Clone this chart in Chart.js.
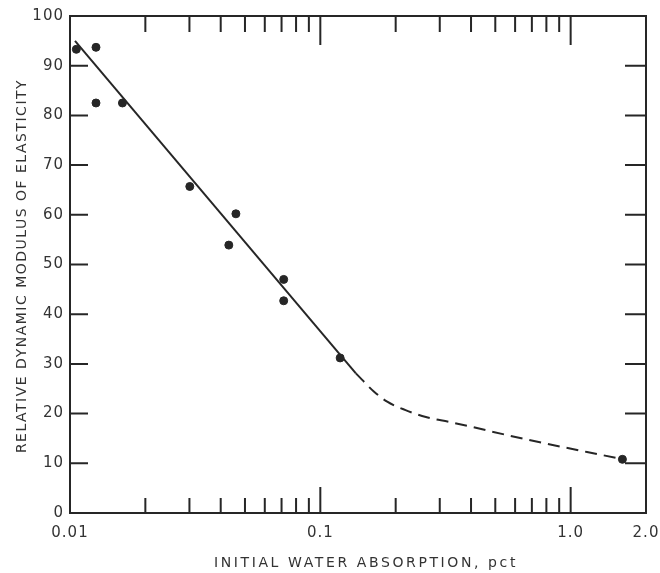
<!DOCTYPE html>
<html>
<head>
<meta charset="utf-8">
<script src="https://cdn.jsdelivr.net/npm/chart.js@4.4.1/dist/chart.umd.min.js"></script>
<style>
    html, body { margin: 0; padding: 0; background: #fff; }
    #wrap { width: 660px; height: 573px; }
</style>
</head>
<body>
<div id="wrap"><canvas id="absorptionChart" width="660" height="573"></canvas></div>
<script>
// Datos
const pointX = [0.0106, 0.0127, 0.0127, 0.0162, 0.0301, 0.0431, 0.0460, 0.0714, 0.0714, 0.120, 1.61];
const pointY = [93.3, 93.7, 82.5, 82.5, 65.7, 53.9, 60.2, 47.0, 42.7, 31.2, 10.8];

const fitX = [0.01047, 0.1387];
const fitY = [95.0, 28.1];

const curveX = [0.1387, 0.164, 0.185, 0.219, 0.264, 0.33, 0.68, 1.55];
const curveY = [28.1, 24.4, 22.4, 20.7, 19.3, 18.3, 14.7, 11.0];

const xTickValues = [0.01, 0.1, 1.0, 2.0];
const xTickLabels = ['0.01', '0.1', '1.0', '2.0'];
const xMinorTicks = [0.02, 0.03, 0.04, 0.05, 0.06, 0.07, 0.08, 0.09,
                     0.2, 0.3, 0.4, 0.5, 0.6, 0.7, 0.8, 0.9];
const xMajorTicks = [0.1, 1.0];
const yTickValues = [0, 10, 20, 30, 40, 50, 60, 70, 80, 90, 100];

const xTitle = 'INITIAL WATER ABSORPTION, pct';
const yTitle = 'RELATIVE DYNAMIC MODULUS OF ELASTICITY';

const ink = '#262626';

function toPoints(xs, ys) {
    return xs.map((x, i) => ({ x: x, y: ys[i] }));
}

/**
 * Marco, marcas interiores y titulos de los ejes
 */
const framePlugin = {
    id: 'frame',
    beforeDraw(chart) {
        chart.ctx.letterSpacing = '1px';
    },
    afterDraw(chart) {
        const ctx = chart.ctx;
        const area = chart.chartArea;
        const xs = chart.scales.x;
        const ys = chart.scales.y;

        ctx.save();
        ctx.strokeStyle = ink;
        ctx.lineWidth = 2;
        ctx.strokeRect(area.left, area.top, area.right - area.left, area.bottom - area.top);

        ctx.beginPath();
        xMinorTicks.forEach(v => {
            const px = xs.getPixelForValue(v);
            ctx.moveTo(px, area.bottom);
            ctx.lineTo(px, area.bottom - 15);
            ctx.moveTo(px, area.top);
            ctx.lineTo(px, area.top + 16);
        });
        xMajorTicks.forEach(v => {
            const px = xs.getPixelForValue(v);
            ctx.moveTo(px, area.bottom);
            ctx.lineTo(px, area.bottom - 26);
            ctx.moveTo(px, area.top);
            ctx.lineTo(px, area.top + 29);
        });
        yTickValues.slice(1, -1).forEach(v => {
            const py = ys.getPixelForValue(v);
            ctx.moveTo(area.left, py);
            ctx.lineTo(area.left + 18, py);
            ctx.moveTo(area.right, py);
            ctx.lineTo(area.right - 21, py);
        });
        ctx.stroke();

        ctx.fillStyle = '#333';
        ctx.font = '14px "DejaVu Sans"';
        ctx.textAlign = 'center';
        ctx.textBaseline = 'middle';

        ctx.letterSpacing = '2.6px';
        ctx.fillText(xTitle, 366, 563);

        ctx.letterSpacing = '1.5px';
        ctx.translate(22, 266);
        ctx.rotate(-Math.PI / 2);
        ctx.fillText(yTitle, 0, 0);
        ctx.restore();
    }
};

document.addEventListener('DOMContentLoaded', function() {
    const ctx = document.getElementById('absorptionChart');

    new Chart(ctx.getContext('2d'), {
        type: 'scatter',
        data: {
            datasets: [
                {
                    label: 'Mediciones',
                    data: toPoints(pointX, pointY),
                    backgroundColor: ink,
                    borderColor: ink,
                    pointRadius: 4,
                    pointHoverRadius: 4
                },
                {
                    label: 'Ajuste',
                    data: toPoints(fitX, fitY),
                    showLine: true,
                    borderColor: ink,
                    borderWidth: 2,
                    pointRadius: 0
                },
                {
                    label: 'Extrapolacion',
                    data: toPoints(curveX, curveY),
                    showLine: true,
                    borderColor: ink,
                    borderWidth: 2,
                    borderDash: [12, 7],
                    tension: 0.4,
                    cubicInterpolationMode: 'monotone',
                    pointRadius: 0
                }
            ]
        },
        options: {
            responsive: false,
            animation: false,
            layout: {
                padding: { top: 16, right: 14, left: 0, bottom: 0 }
            },
            plugins: {
                legend: { display: false },
                tooltip: { enabled: false }
            },
            scales: {
                x: {
                    type: 'logarithmic',
                    min: 0.01,
                    max: 2.0,
                    afterBuildTicks: s => { s.ticks = xTickValues.map(v => ({ value: v })); },
                    afterFit: s => {
                        s.height = 60;
                        s.paddingLeft = 0;
                        s.paddingRight = 0;
                    },
                    grid: { display: false, drawTicks: false },
                    border: { display: false },
                    ticks: {
                        autoSkip: false,
                        maxRotation: 0,
                        padding: 11,
                        color: '#333',
                        font: { family: 'DejaVu Sans', size: 15 },
                        callback: (v, i) => xTickLabels[i]
                    }
                },
                y: {
                    min: 0,
                    max: 100,
                    afterBuildTicks: s => { s.ticks = yTickValues.map(v => ({ value: v })); },
                    afterFit: s => {
                        s.width = 70;
                        s.paddingTop = 0;
                        s.paddingBottom = 0;
                    },
                    grid: { display: false, drawTicks: false },
                    border: { display: false },
                    ticks: {
                        padding: 6,
                        color: '#333',
                        font: { family: 'DejaVu Sans', size: 15 }
                    }
                }
            }
        },
        plugins: [framePlugin]
    });
});
</script>
</body>
</html>
